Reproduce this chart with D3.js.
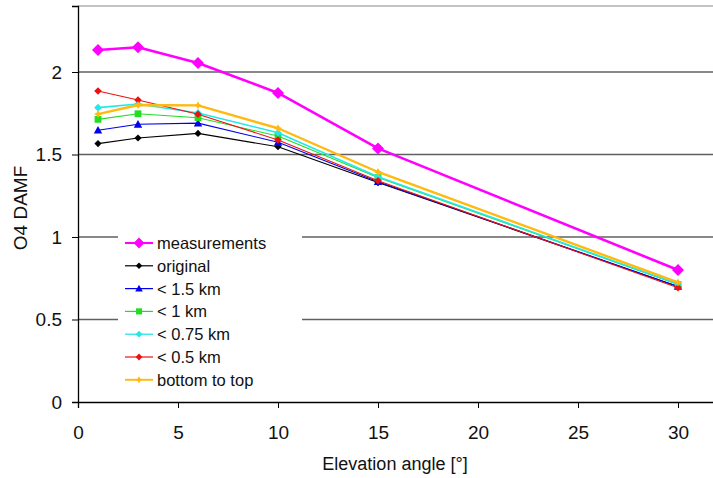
<!DOCTYPE html>
<html>
<head>
<meta charset="utf-8">
<script src="https://cdn.jsdelivr.net/npm/d3@7"></script>
<style>
  html, body { margin: 0; padding: 0; background: #fff; }
  svg { display: block; font-family: "Liberation Sans", Arial, sans-serif; }
</style>
</head>
<body>
<svg id="chart" width="713" height="478"></svg>
<script>
// Elevation angles [°]
const angles = [1, 3, 6, 10, 15, 30];

// O4 DAMF per series
const measurements = [2.133, 2.15, 2.055, 1.873, 1.537, 0.80];
const original     = [1.566, 1.60, 1.628, 1.547, 1.33, 0.70];
const below15      = [1.647, 1.683, 1.69, 1.574, 1.335, 0.70];
const below1       = [1.713, 1.747, 1.723, 1.612, 1.36, 0.712];
const below075     = [1.784, 1.806, 1.752, 1.632, 1.365, 0.715];
const below05      = [1.885, 1.83, 1.744, 1.588, 1.341, 0.692];
const bottomToTop  = [1.745, 1.80, 1.798, 1.659, 1.394, 0.725];

const seriesNames = ["measurements", "original", "< 1.5 km", "< 1 km", "< 0.75 km", "< 0.5 km", "bottom to top"];

const xTicks = [0, 5, 10, 15, 20, 25, 30];
const yTicks = [0, 0.5, 1, 1.5, 2];

const styles = [
  { color: "#ff00ff", width: 2.6, marker: "diamond", r: 6 },
  { color: "#000000", width: 1.1, marker: "diamond", r: 3.6 },
  { color: "#0000ee", width: 1.1, marker: "triangle", r: 4.2 },
  { color: "#22dd22", width: 1.1, marker: "square", r: 3.4 },
  { color: "#22e8e8", width: 1.6, marker: "diamond", r: 3.8 },
  { color: "#ee1111", width: 1.1, marker: "diamond", r: 3.8 },
  { color: "#ffb90f", width: 2.4, marker: "star", r: 4 }
];

const allValues = [measurements, original, below15, below1, below075, below05, bottomToTop];
const series = seriesNames.map((name, i) => ({
  name, style: styles[i],
  points: angles.map((a, j) => ({ x: a, y: allValues[i][j] }))
}));

const svg = d3.select("#chart");
const x = d3.scaleLinear().domain([0, 32]).range([78, 718]);
const y = d3.scaleLinear().domain([0, 2.4]).range([402, 6]);

// marker outlines centred on the origin, r = half width
function markerPath(type, r) {
  const p = d3.path();
  if (type === "diamond") {
    p.moveTo(0, -r); p.lineTo(r, 0); p.lineTo(0, r); p.lineTo(-r, 0); p.closePath();
  } else if (type === "square") {
    p.rect(-r, -r, 2 * r, 2 * r);
  } else if (type === "triangle") {
    p.moveTo(0, -r); p.lineTo(r, r * 0.8); p.lineTo(-r, r * 0.8); p.closePath();
  } else if (type === "star") {
    const a = r * 0.35;
    p.moveTo(0, -r); p.lineTo(a, -a); p.lineTo(r, 0); p.lineTo(a, a);
    p.lineTo(0, r); p.lineTo(-a, a); p.lineTo(-r, 0); p.lineTo(-a, -a); p.closePath();
  }
  return p.toString();
}

// plot frame top edge
svg.append("line")
  .attr("x1", x(0)).attr("x2", 713)
  .attr("y1", y(2.4)).attr("y2", y(2.4))
  .attr("stroke", "#b0b0b0").attr("stroke-width", 1.5);

// horizontal gridlines
svg.append("g").selectAll("line")
  .data(yTicks.filter(d => d > 0))
  .join("line")
  .attr("x1", x(0)).attr("x2", 713)
  .attr("y1", d => y(d)).attr("y2", d => y(d))
  .attr("stroke", "#606060").attr("stroke-width", 1.5);

// axes
const yAxis = d3.axisLeft(y).tickValues(yTicks).tickSize(6).tickPadding(10)
  .tickFormat(d => String(d));
const gy = svg.append("g").attr("transform", `translate(${x(0)},0)`).call(yAxis);
gy.select(".domain").attr("stroke", "#000").attr("stroke-width", 1.3);
gy.selectAll(".tick line").attr("stroke", "#000");
gy.selectAll("text").attr("font-size", 19).attr("fill", "#111")
  .attr("font-family", "Liberation Sans, Arial, sans-serif");

const xAxis = d3.axisBottom(x).tickValues(xTicks).tickSize(6).tickPadding(18);
const gx = svg.append("g").attr("transform", `translate(0,${y(0)})`).call(xAxis);
gx.select(".domain").attr("stroke", "#000").attr("stroke-width", 1.3);
gx.selectAll(".tick line").attr("stroke", "#000");
gx.selectAll("text").attr("font-size", 19).attr("fill", "#111")
  .attr("font-family", "Liberation Sans, Arial, sans-serif");

// axis titles
svg.append("text")
  .attr("x", 395).attr("y", 470)
  .attr("text-anchor", "middle").attr("font-size", 18).attr("fill", "#111")
  .text("Elevation angle [°]");

svg.append("text")
  .attr("transform", `translate(27,208) rotate(-90)`)
  .attr("text-anchor", "middle").attr("font-size", 19).attr("fill", "#111")
  .text("O4 DAMF");

// series lines and markers (measurements drawn last, on top)
const line = d3.line().x(d => x(d.x)).y(d => y(d.y));
const drawOrder = [1, 2, 3, 4, 5, 6, 0];
const plot = svg.append("g");
drawOrder.forEach(i => {
  const s = series[i];
  const g = plot.append("g");
  g.append("path")
    .attr("d", line(s.points))
    .attr("fill", "none")
    .attr("stroke", s.style.color)
    .attr("stroke-width", s.style.width)
    .attr("stroke-linejoin", "round");
  g.selectAll("path.m")
    .data(s.points)
    .join("path")
    .attr("class", "m")
    .attr("transform", d => `translate(${x(d.x)},${y(d.y)})`)
    .attr("d", markerPath(s.style.marker, s.style.r))
    .attr("fill", s.style.color);
});

// legend
const legend = svg.append("g");
legend.append("rect")
  .attr("x", 118).attr("y", 229).attr("width", 184).attr("height", 164)
  .attr("fill", "#fff");
series.forEach((s, i) => {
  const ly = 243 + i * 22.8;
  legend.append("line")
    .attr("x1", 125).attr("x2", 153)
    .attr("y1", ly).attr("y2", ly)
    .attr("stroke", s.style.color)
    .attr("stroke-width", Math.max(1.2, s.style.width * 0.8));
  legend.append("path")
    .attr("transform", `translate(139,${ly})`)
    .attr("d", markerPath(s.style.marker, s.style.r * 0.9))
    .attr("fill", s.style.color);
  legend.append("text")
    .attr("x", 157).attr("y", ly + 6)
    .attr("font-size", 16.5).attr("fill", "#111")
    .text(s.name);
});
</script>
</body>
</html>
